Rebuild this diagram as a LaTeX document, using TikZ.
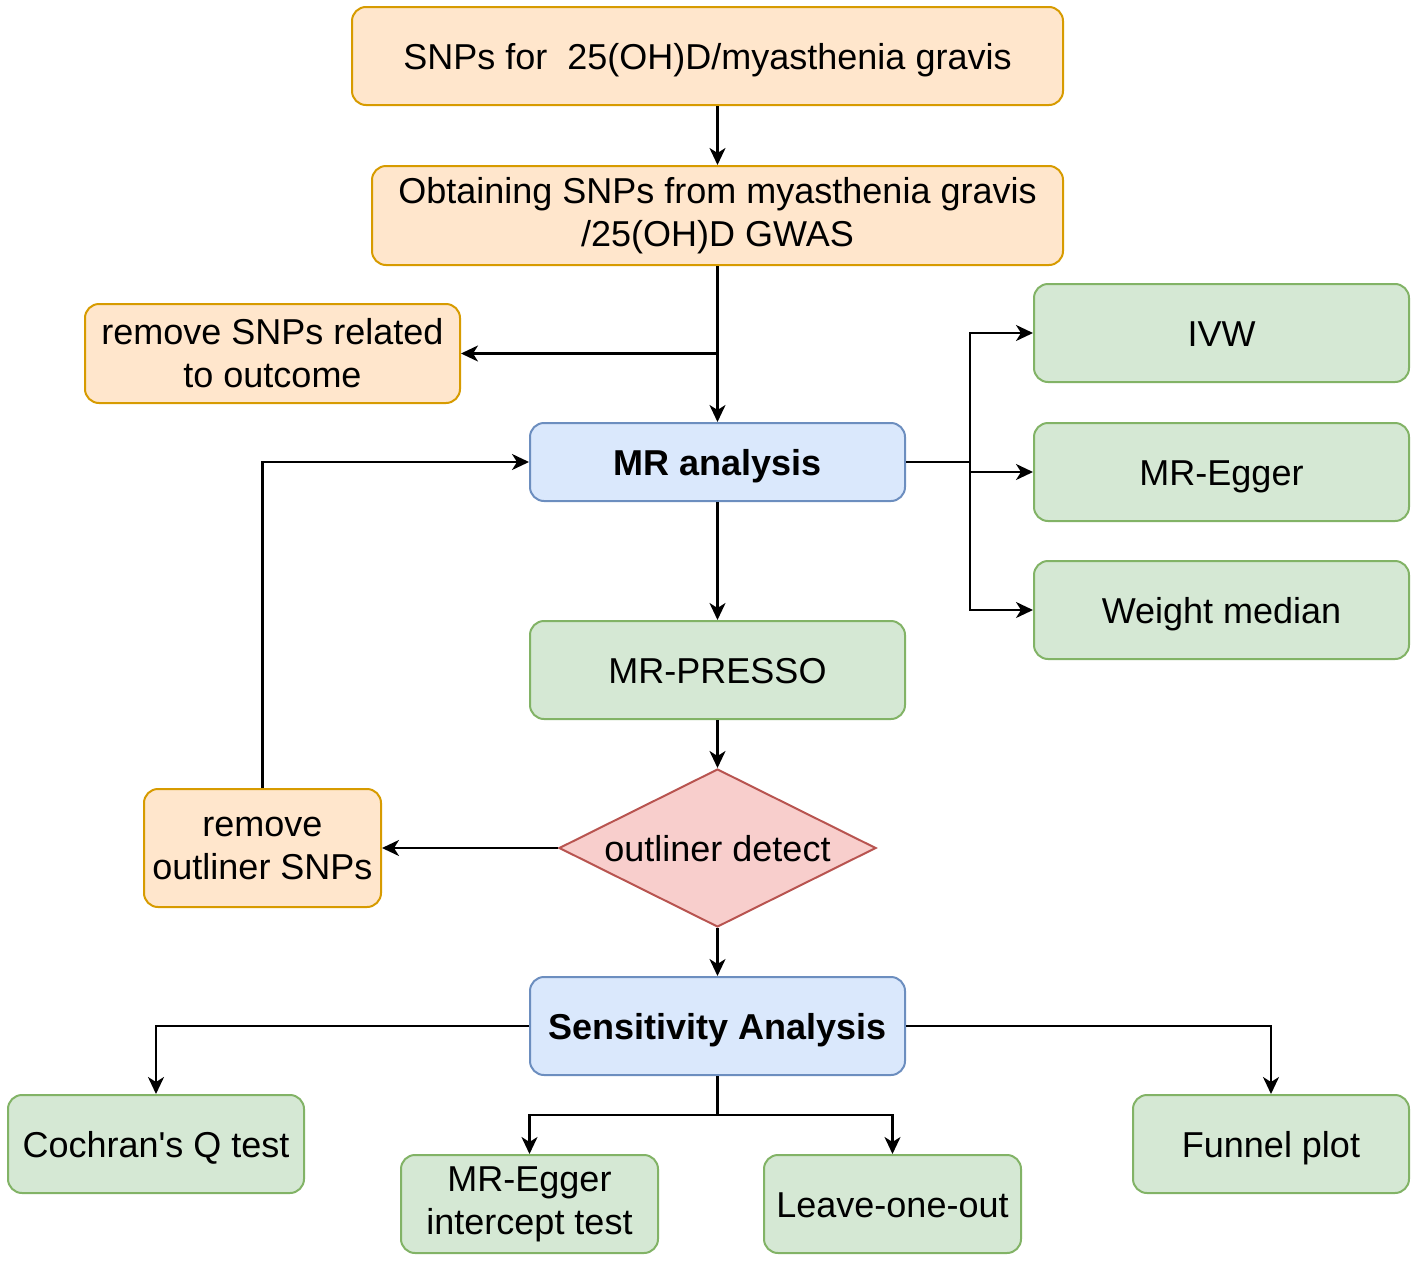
\documentclass[tikz,border=0pt]{standalone}
\usepackage{fontspec}
\setmainfont{Liberation Sans}[Ligatures=TeXOff]
\usetikzlibrary{arrows.meta,shapes.geometric}
\definecolor{orF}{HTML}{FFE6CC}\definecolor{orD}{HTML}{D79B00}
\definecolor{blF}{HTML}{DAE8FC}\definecolor{blD}{HTML}{6C8EBF}
\definecolor{grF}{HTML}{D5E8D4}\definecolor{grD}{HTML}{82B366}
\definecolor{rdF}{HTML}{F8CECC}\definecolor{rdD}{HTML}{B85450}
\tikzset{
  base/.style={rectangle, rounded corners=14pt, line width=2pt, inner sep=0pt, align=center,
    font=\fontsize{36}{43}\selectfont},
  one/.style={text height=26pt, text depth=0pt},
  orbox/.style={base, fill=orF, draw=orD},
  blbox/.style={base, fill=blF, draw=blD, font=\fontsize{36}{43}\selectfont\bfseries},
  grbox/.style={base, fill=grF, draw=grD},
  dia/.style={shape=diamond, aspect=2, fill=rdF, draw=rdD, line width=2pt, inner sep=0pt,
    font=\fontsize{36}{43}\selectfont},
  arr/.style={line width=2.2pt, -{Stealth[length=17pt,width=16pt,inset=5pt]}},
  ln/.style={line width=2.2pt},
}
\begin{document}
\begin{tikzpicture}[x=1pt,y=-1pt]
\useasboundingbox (0,0) rectangle (1417,1261);
\node[orbox, one, minimum width=711pt, minimum height=98pt] (b1) at (707.5,56) {SNPs for~ 25(OH)D/myasthenia gravis};
\node[orbox, minimum width=691pt, minimum height=99pt] (b2) at (717.5,215.5) {Obtaining SNPs from myasthenia gravis\\/25(OH)D GWAS};
\node[orbox, minimum width=375pt, minimum height=99pt] (b3) at (272.5,353.5) {remove SNPs related\\to outcome};
\node[blbox, one, minimum width=375pt, minimum height=78pt] (mr) at (717.5,462) {MR analysis};
\node[grbox, one, minimum width=375pt, minimum height=98pt] (ivw) at (1221.5,333) {IVW};
\node[grbox, one, minimum width=375pt, minimum height=98pt] (egg) at (1221.5,472) {MR-Egger};
\node[grbox, one, minimum width=375pt, minimum height=98pt] (wm) at (1221.5,610) {Weight median};
\node[grbox, one, minimum width=375pt, minimum height=98pt] (pre) at (717.5,670) {MR-PRESSO};
\node[dia, one, minimum width=317pt, minimum height=158pt] (od) at (717.5,848) {outliner detect};
\node[orbox, minimum width=237pt, minimum height=118pt] (ro) at (262.5,848) {remove\\outliner SNPs};
\node[blbox, one, minimum width=375pt, minimum height=98pt] (sa) at (717.5,1026) {Sensitivity Analysis};
\node[grbox, one, minimum width=296pt, minimum height=98pt] (cq) at (156,1144) {Cochran's Q test};
\node[grbox, minimum width=257pt, minimum height=98pt] (ei) at (529.5,1204) {MR-Egger\\intercept test};
\node[grbox, one, minimum width=257pt, minimum height=98pt] (lo) at (892.5,1204) {Leave-one-out};
\node[grbox, one, minimum width=276pt, minimum height=98pt] (fp) at (1271,1144) {Funnel plot};
\coordinate (jr) at (970,462);
\coordinate (sb) at (717.5,1115);
\draw[arr] (b1.south -| b2.north) -- (b2.north);
\draw[arr] (b2.south) -- (mr.north);
\draw[arr] (b2.south |- b3.east) -- (b3.east);
\draw[ln] (mr.east) -- (jr);
\draw[arr] (jr) |- (ivw.west);
\draw[arr] (jr) |- (egg.west);
\draw[arr] (jr) |- (wm.west);
\draw[arr] (mr.south) -- (pre.north);
\draw[arr] (pre.south) -- (od.north);
\draw[arr] (od.west) -- (ro.east);
\draw[arr] (ro.north) |- (mr.west);
\draw[arr] (od.south) -- (sa.north);
\draw[arr] (sa.west) -| (cq.north);
\draw[arr] (sa.east) -| (fp.north);
\draw[ln] (sa.south) -- (sb);
\draw[arr] (sb) -| (ei.north);
\draw[arr] (sb) -| (lo.north);
\end{tikzpicture}
\end{document}
